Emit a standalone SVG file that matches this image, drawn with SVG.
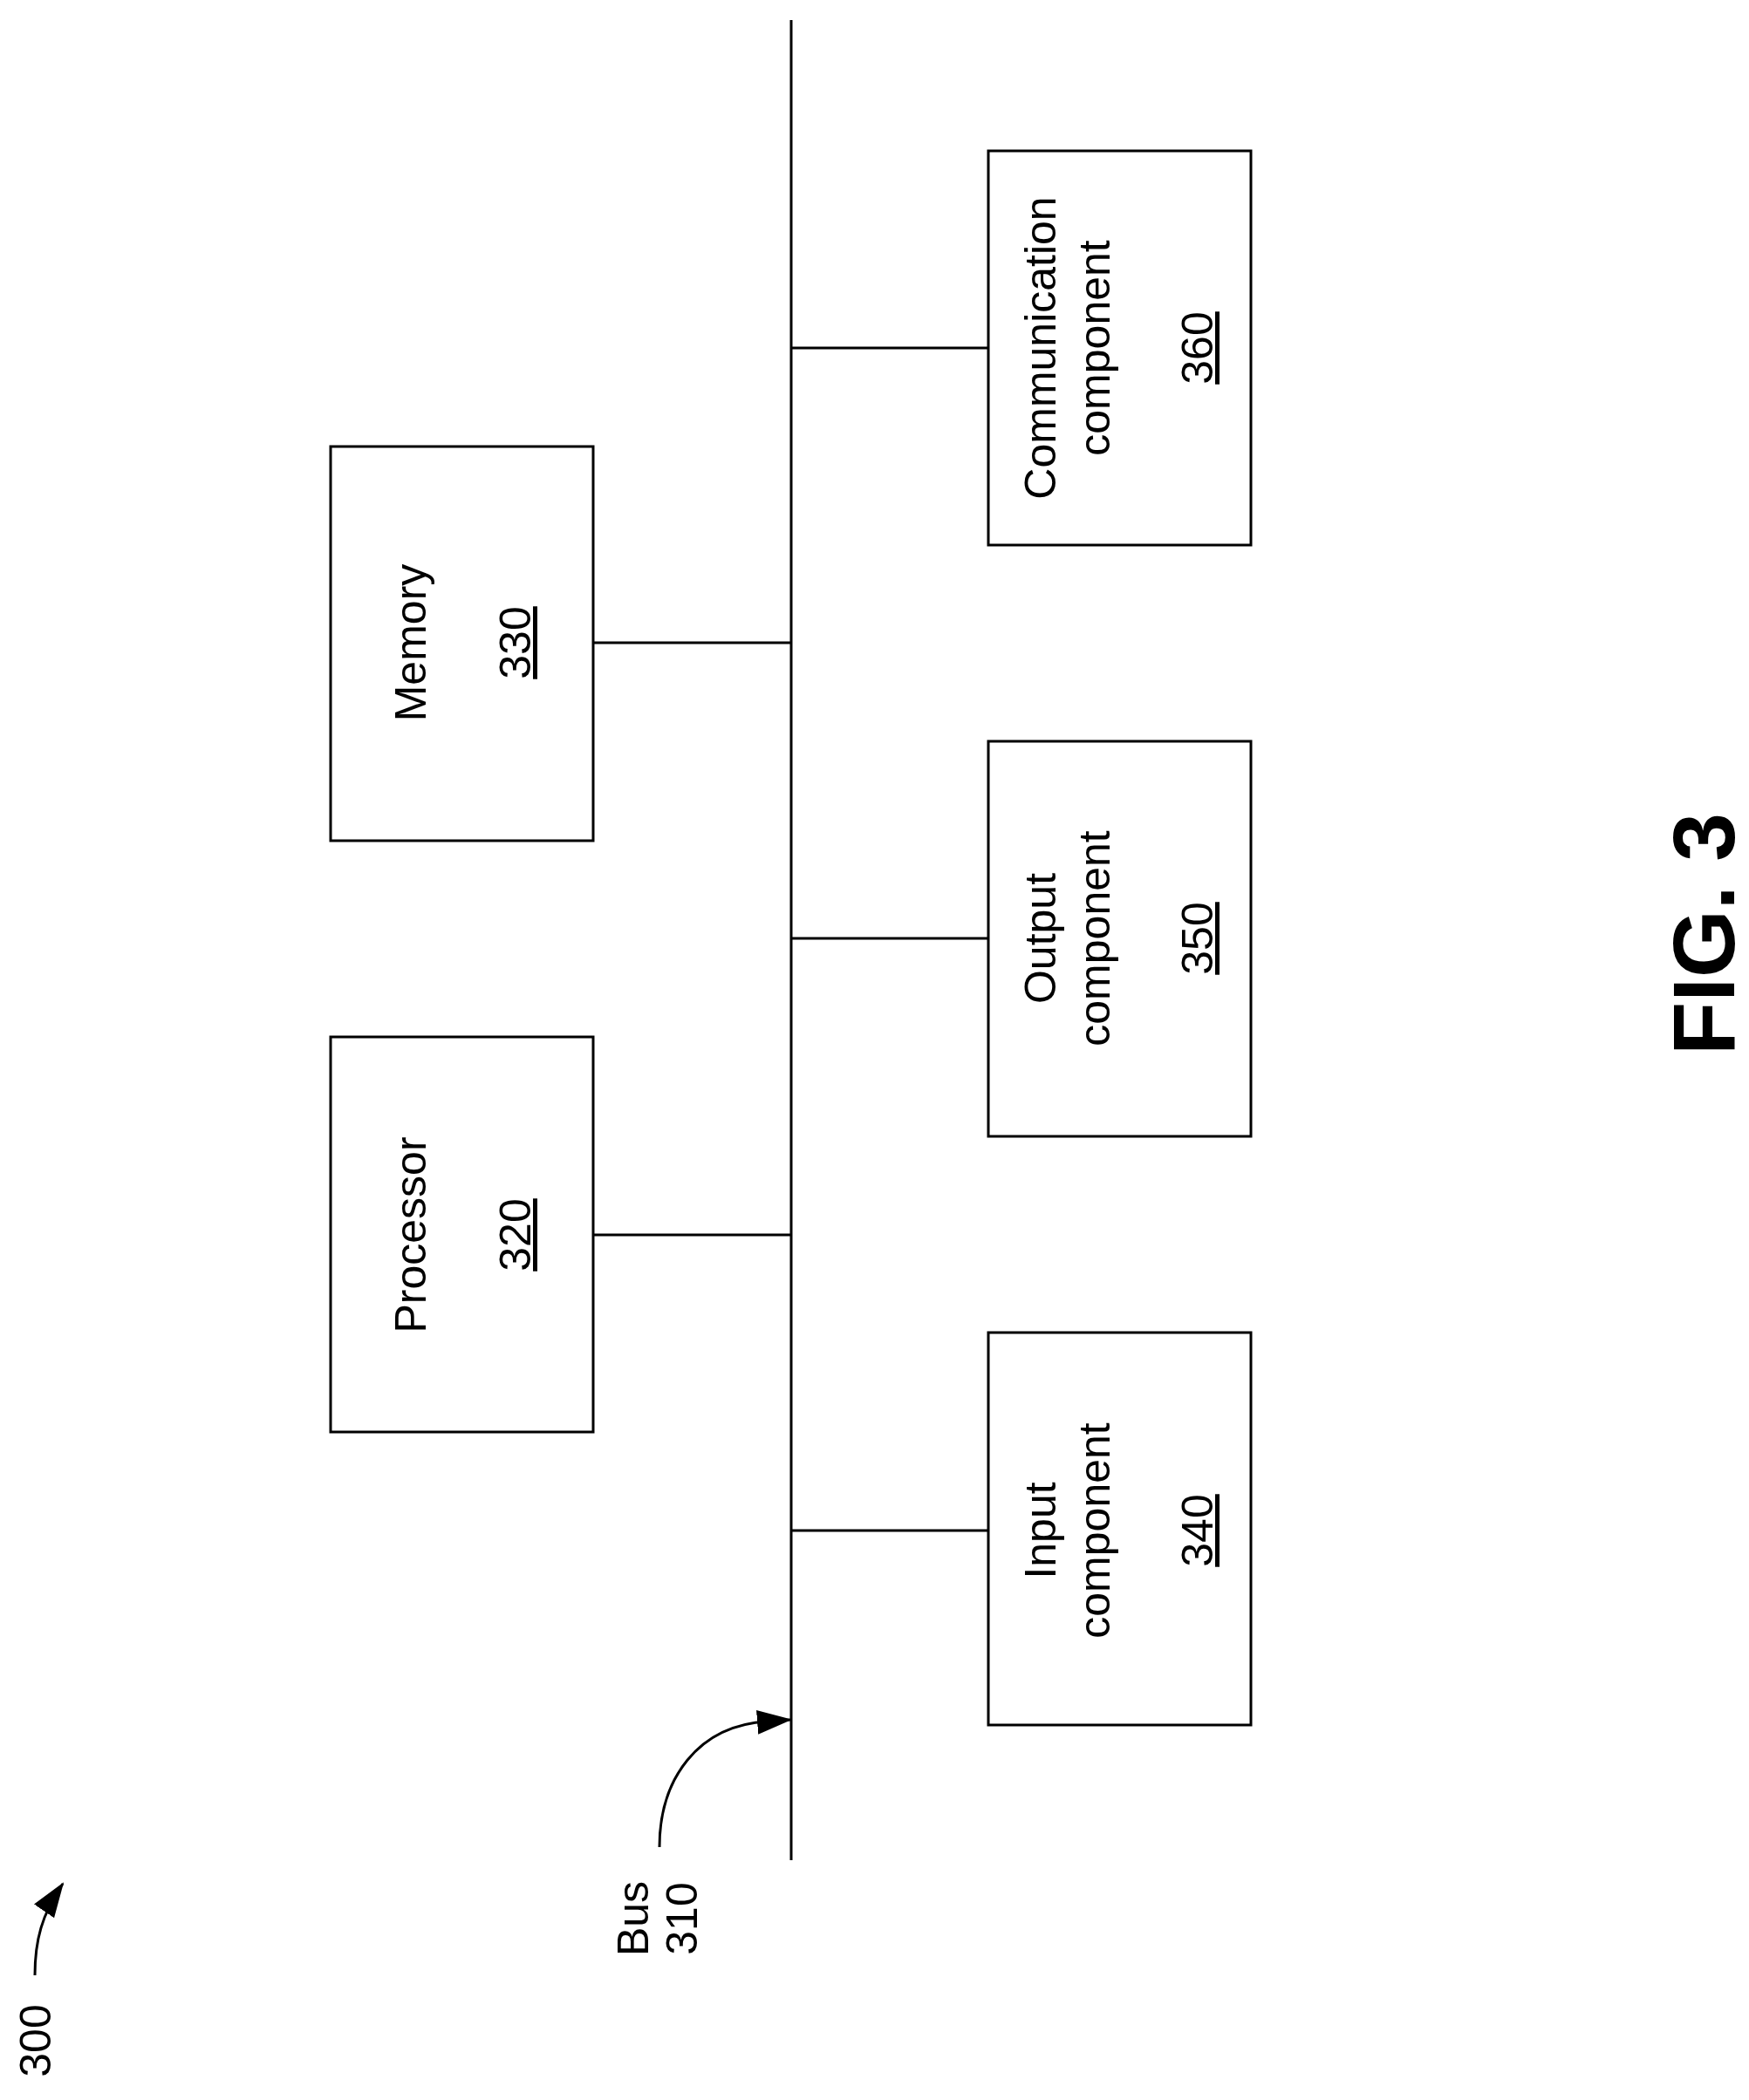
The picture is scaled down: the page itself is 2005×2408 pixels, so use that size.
<svg xmlns="http://www.w3.org/2000/svg" width="2005" height="2408" viewBox="0 0 2005 2408">
<style>
.box{fill:#fff;stroke:#000;stroke-width:3}
.ln{fill:none;stroke:#000;stroke-width:3}
text{font-family:"Liberation Sans",Arial,sans-serif;font-size:50px;text-anchor:middle;fill:#000}
.u{text-decoration:underline}
</style>
<defs>
<marker id="ah" viewBox="0 0 40 28" refX="38" refY="14" markerWidth="40" markerHeight="28" markerUnits="userSpaceOnUse" orient="auto"><path d="M0,0 L40,14 L0,28 Z" fill="#000"/></marker>
</defs>
<rect width="2005" height="2408" fill="#fff"/>
<g id="connectors">
<line class="ln" x1="907" y1="23" x2="907" y2="2133"/>
<line class="ln" x1="680" y1="737" x2="907" y2="737"/>
<line class="ln" x1="680" y1="1416" x2="907" y2="1416"/>
<line class="ln" x1="907" y1="399" x2="1133" y2="399"/>
<line class="ln" x1="907" y1="1076" x2="1133" y2="1076"/>
<line class="ln" x1="907" y1="1755" x2="1133" y2="1755"/>
<path class="ln" d="M756,2118 C756,2040 800,1978 880,1974 L906,1972" marker-end="url(#ah)"/>
<path class="ln" d="M40,2265 C40,2225 48,2195 72,2160" marker-end="url(#ah)"/>
</g>
<g id="memory"><rect class="box" x="379" y="512" width="301" height="452"/>
<text transform="translate(488,737) rotate(-90)">Memory</text>
<text class="u" transform="translate(608,737) rotate(-90)">330</text></g>
<g id="processor"><rect class="box" x="379" y="1189" width="301" height="453"/>
<text transform="translate(488,1416) rotate(-90)">Processor</text>
<text class="u" transform="translate(608,1416) rotate(-90)">320</text></g>
<g id="communication"><rect class="box" x="1133" y="173" width="301" height="452"/>
<text transform="translate(1210,399) rotate(-90)">Communication</text>
<text transform="translate(1272,399) rotate(-90)">component</text>
<text class="u" transform="translate(1390,399) rotate(-90)">360</text></g>
<g id="output"><rect class="box" x="1133" y="850" width="301" height="453"/>
<text transform="translate(1210,1076) rotate(-90)">Output</text>
<text transform="translate(1272,1076) rotate(-90)">component</text>
<text class="u" transform="translate(1390,1076) rotate(-90)">350</text></g>
<g id="input"><rect class="box" x="1133" y="1528" width="301" height="450"/>
<text transform="translate(1210,1755) rotate(-90)">Input</text>
<text transform="translate(1272,1755) rotate(-90)">component</text>
<text class="u" transform="translate(1390,1755) rotate(-90)">340</text></g>
<g id="bus-label">
<text transform="translate(743,2200) rotate(-90)">Bus</text>
<text transform="translate(799,2200) rotate(-90)">310</text></g>
<g id="ref300"><text transform="translate(58,2340) rotate(-90)">300</text></g>
<g id="fig"><text transform="translate(1988,1071) rotate(-90)" style="font-weight:bold;font-size:100px">FIG. 3</text></g>
</svg>
